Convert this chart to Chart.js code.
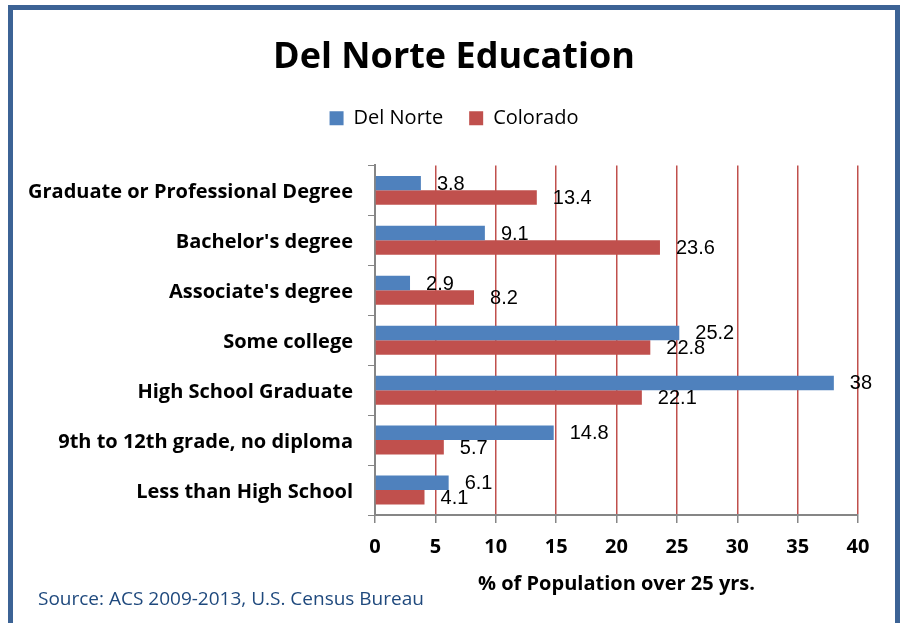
<!DOCTYPE html>
<html>
<head>
<meta charset="utf-8">
<script src="https://cdn.jsdelivr.net/npm/chart.js@4"></script>
<style>
body{margin:0;background:#fff;}
#frame{position:absolute;left:8px;top:5px;width:882px;height:640px;border:5px solid #3C6395;border-bottom:none;}
#wrap{position:absolute;left:0;top:0;width:908px;height:623px;}
#source{position:absolute;left:38px;top:586px;font:19px "Open Sans";line-height:24px;color:#1F497D;}
</style>
</head>
<body>
<div id="frame"></div>
<div id="wrap"><canvas id="myChart" width="908" height="623"></canvas></div>
<div id="source">Source: ACS 2009-2013, U.S. Census Bureau</div>
<script>
const categorias=['Graduate or Professional Degree',"Bachelor's degree","Associate's degree",'Some college','High School Graduate','9th to 12th grade, no diploma','Less than High School']
const delNorte=[3.8,9.1,2.9,25.2,38,14.8,6.1]
const colorado=[13.4,23.6,8.2,22.8,22.1,5.7,4.1]
const ticksX=[0,5,10,15,20,25,30,35,40]

const fuente='Open Sans'
const gris='#868686'
const rojo='#C0504D'

// etiquetas de valor al final de cada barra
const etiquetas={
    id:'etiquetas',
    afterDatasetsDraw(chart){
        const ctx=chart.ctx
        ctx.save()
        ctx.font='20px "Liberation Sans"'
        ctx.fillStyle='#000'
        ctx.textBaseline='middle'
        chart.data.datasets.forEach((ds,i)=>{
            chart.getDatasetMeta(i).data.forEach((bar,j)=>{
                ctx.fillText(String(ds.data[j]),bar.x+16,bar.y+1)
            })
        })
        ctx.restore()
    }
}

const ctx=document.getElementById('myChart').getContext('2d')
const myChart=new Chart(ctx,{
    type:'bar',
    data:{
        labels:categorias,
        datasets:[
            {label:'Del Norte',data:delNorte,backgroundColor:'#4F81BD',categoryPercentage:0.58,barPercentage:1},
            {label:'Colorado',data:colorado,backgroundColor:rojo,categoryPercentage:0.58,barPercentage:1}
        ]
    },
    options:{
        indexAxis:'y',
        responsive:false,
        animation:false,
        layout:{padding:0},
        plugins:{
            title:{display:true,text:'Del Norte Education',color:'#000',font:{family:fuente,size:36,weight:'bold'},padding:{top:36,bottom:3}},
            legend:{weight:1600,labels:{color:'#000',font:{family:fuente,size:20},boxWidth:14,boxHeight:14,padding:26}},
            subtitle:{display:true,text:' ',font:{size:1},padding:{top:0,bottom:26}},
            tooltip:{enabled:false}
        },
        scales:{
            x:{
                min:0,max:40,
                afterBuildTicks:s=>{s.ticks=ticksX.map(v=>({value:v}))},
                afterFit:s=>{s.height=108},
                border:{color:gris,width:2},
                grid:{color:c=>c.index===0?'rgba(0,0,0,0)':rojo,lineWidth:1.5,tickColor:gris,tickLength:8},
                ticks:{color:'#000',font:{family:fuente,size:20,weight:'bold'},padding:12},
                title:{display:true,text:'% of Population over 25 yrs.',color:'#000',font:{family:fuente,size:20,weight:'bold'},padding:{top:0,bottom:27}}
            },
            y:{
                afterFit:s=>{s.width=375},
                border:{color:gris,width:2},
                grid:{offset:true,drawOnChartArea:false,tickColor:gris,tickLength:7},
                ticks:{color:'#000',font:{family:fuente,size:20,weight:'bold'},padding:15,labelOffset:2}
            },
            // eje vacio a la derecha, solo para dejar el margen y centrar titulo y leyenda
            derecha:{
                type:'category',
                position:'right',
                afterFit:s=>{s.width=50},
                border:{display:false},
                grid:{display:false},
                ticks:{display:false}
            }
        }
    },
    plugins:[etiquetas]
})
</script>
</body>
</html>
